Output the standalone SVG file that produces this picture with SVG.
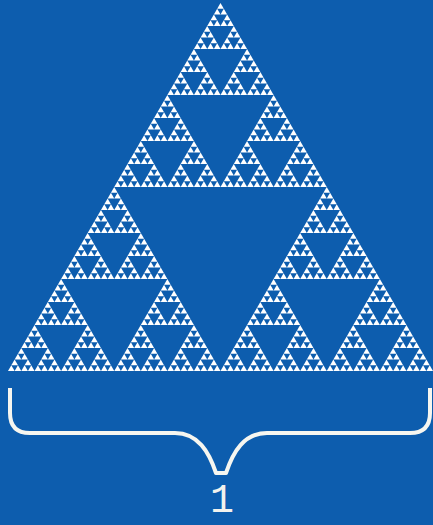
<svg xmlns="http://www.w3.org/2000/svg" xmlns:xlink="http://www.w3.org/1999/xlink" width="433" height="525" viewBox="0 0 433 525">
<style>
.tri{fill:#ffffff}
.brace{fill:none;stroke:#f6f6f0;stroke-width:4;stroke-linecap:butt;stroke-linejoin:round}
.lbl{font-family:"Liberation Mono","DejaVu Sans Mono",monospace;font-size:40px;fill:#f2f2ee;text-anchor:middle}
</style>
<defs>
<polygon id="L0" class="tri" points="220.5,3 8,371 433,371"/>
<g id="L1"><use href="#L0" transform="matrix(.5 0 0 .5 110.25 1.5)"/><use href="#L0" transform="matrix(.5 0 0 .5 4 185.5)"/><use href="#L0" transform="matrix(.5 0 0 .5 216.5 185.5)"/></g>
<g id="L2"><use href="#L1" transform="matrix(.5 0 0 .5 110.25 1.5)"/><use href="#L1" transform="matrix(.5 0 0 .5 4 185.5)"/><use href="#L1" transform="matrix(.5 0 0 .5 216.5 185.5)"/></g>
<g id="L3"><use href="#L2" transform="matrix(.5 0 0 .5 110.25 1.5)"/><use href="#L2" transform="matrix(.5 0 0 .5 4 185.5)"/><use href="#L2" transform="matrix(.5 0 0 .5 216.5 185.5)"/></g>
<g id="L4"><use href="#L3" transform="matrix(.5 0 0 .5 110.25 1.5)"/><use href="#L3" transform="matrix(.5 0 0 .5 4 185.5)"/><use href="#L3" transform="matrix(.5 0 0 .5 216.5 185.5)"/></g>
<g id="L5"><use href="#L4" transform="matrix(.5 0 0 .5 110.25 1.5)"/><use href="#L4" transform="matrix(.5 0 0 .5 4 185.5)"/><use href="#L4" transform="matrix(.5 0 0 .5 216.5 185.5)"/></g>
<g id="L6"><use href="#L5" transform="matrix(.5 0 0 .5 110.25 1.5)"/><use href="#L5" transform="matrix(.5 0 0 .5 4 185.5)"/><use href="#L5" transform="matrix(.5 0 0 .5 216.5 185.5)"/></g>
</defs>
<rect width="433" height="525" fill="#0d5dae"/>
<g id="sierpinski"><use href="#L6"/></g>
<g id="brace"><path class="brace" d="M10,388 L10,413 Q10,433 30,433 L175,433 C198,433 209,452 216,473 L226,473 C233,452 244,433 267,433 L410,433 Q430,433 430,413 L430,388"/></g>
<g id="label"><text class="lbl" x="222" y="512">1</text></g>
</svg>
